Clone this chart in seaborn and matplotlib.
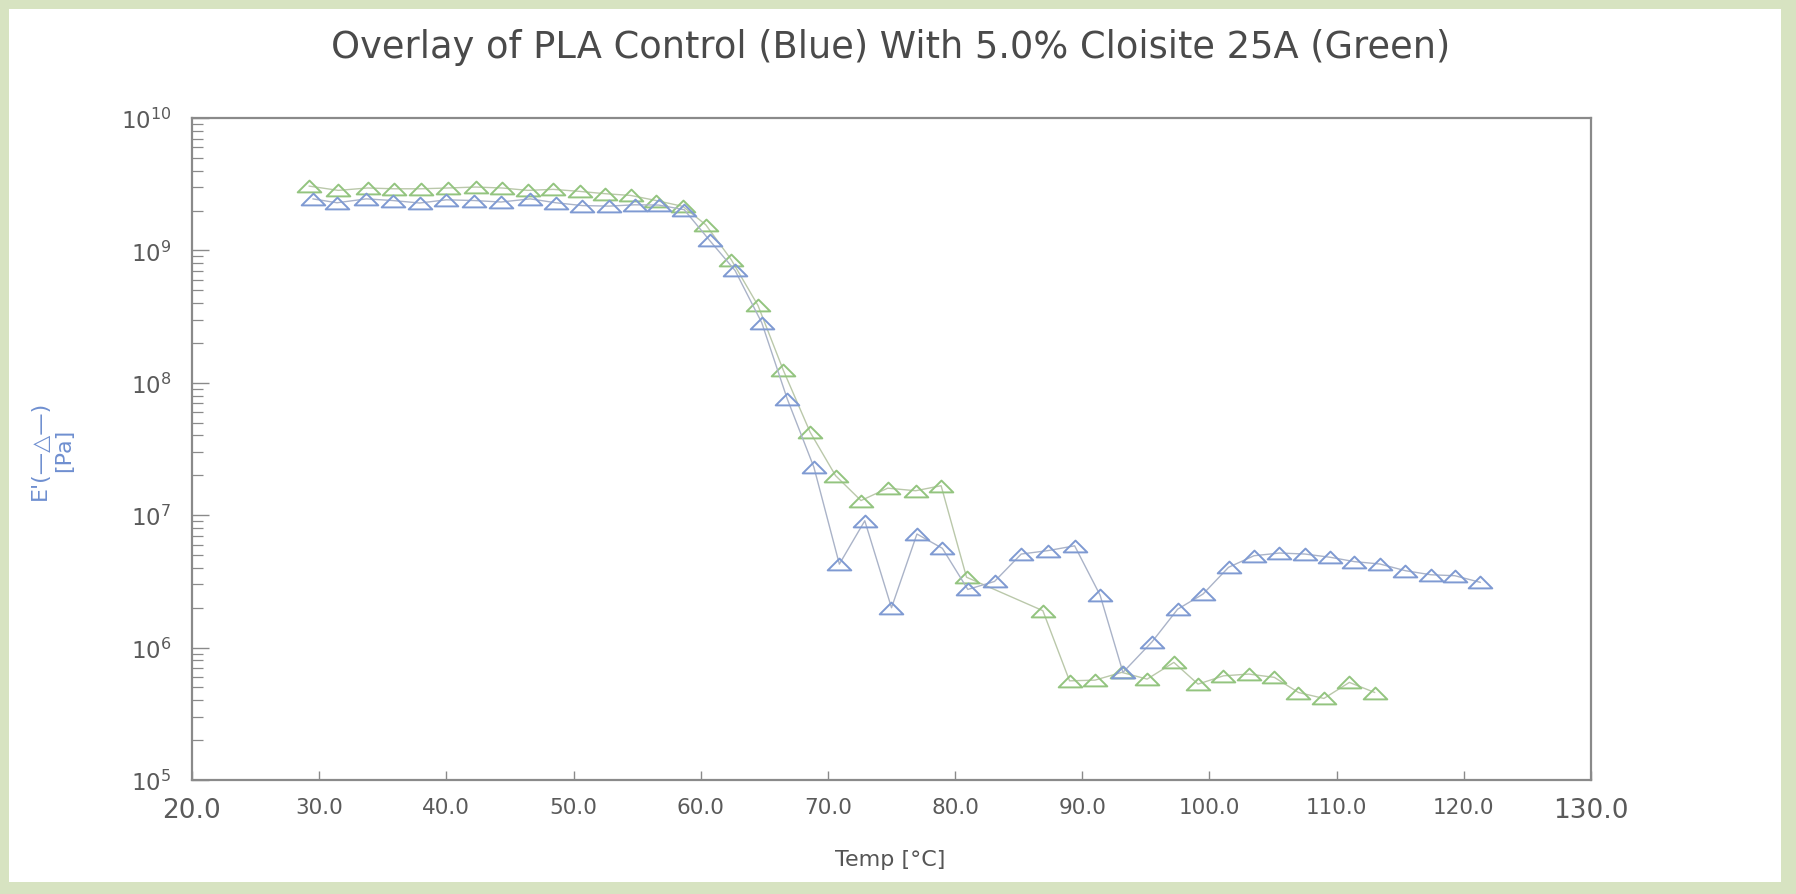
import numpy as np
import matplotlib
matplotlib.use("Agg")
import matplotlib.pyplot as plt
import seaborn as sns
from matplotlib.path import Path
from matplotlib.patches import Rectangle
from matplotlib.ticker import LogLocator, FixedLocator, FixedFormatter, NullFormatter

# ---------------- data ----------------
temp_blue = [29.5, 31.4, 33.7, 35.8, 37.9, 40.0, 42.2, 44.3, 46.6, 48.6,
             50.7, 52.8, 54.8, 56.7, 58.7, 60.7, 62.7, 64.8, 66.8, 68.9,
             70.9, 72.9, 75.0, 77.0, 79.0, 81.0, 83.1, 85.2, 87.3, 89.4,
             91.4, 93.2, 95.5, 97.5, 99.5, 101.5, 103.5, 105.5, 107.5, 109.5,
             111.4, 113.4, 115.4, 117.4, 119.3, 121.3]
e_blue = [2.45e9, 2.29e9, 2.45e9, 2.38e9, 2.28e9, 2.41e9, 2.38e9, 2.32e9, 2.45e9, 2.29e9,
          2.18e9, 2.16e9, 2.21e9, 2.20e9, 2.03e9, 1.19e9, 7.05e8, 2.84e8, 7.57e7, 2.30e7,
          4.27e6, 9.08e6, 2.00e6, 7.21e6, 5.62e6, 2.75e6, 3.16e6, 5.09e6, 5.40e6, 5.87e6,
          2.49e6, 6.50e5, 1.11e6, 1.95e6, 2.54e6, 4.04e6, 4.94e6, 5.18e6, 5.09e6, 4.81e6,
          4.46e6, 4.28e6, 3.81e6, 3.55e6, 3.49e6, 3.11e6]

temp_green = [29.2, 31.5, 33.8, 35.9, 38.0, 40.1, 42.3, 44.4, 46.4, 48.4,
              50.5, 52.5, 54.5, 56.5, 58.6, 60.4, 62.4, 64.5, 66.5, 68.6,
              70.6, 72.6, 74.7, 76.9, 78.9, 80.9, 86.9, 89.0, 91.0, 93.1,
              95.1, 97.2, 99.1, 101.1, 103.1, 105.1, 107.0, 109.0, 111.0, 113.0]
e_green = [3.06e9, 2.84e9, 2.96e9, 2.92e9, 2.92e9, 2.96e9, 3.01e9, 2.96e9, 2.84e9, 2.89e9,
           2.79e9, 2.68e9, 2.60e9, 2.38e9, 2.15e9, 1.56e9, 8.51e8, 3.84e8, 1.24e8, 4.24e7,
           1.99e7, 1.29e7, 1.60e7, 1.53e7, 1.67e7, 3.40e6, 1.90e6, 5.61e5, 5.68e5, 6.50e5,
           5.78e5, 7.73e5, 5.30e5, 6.12e5, 6.31e5, 5.96e5, 4.58e5, 4.13e5, 5.46e5, 4.58e5]

x_ticks = [20, 30, 40, 50, 60, 70, 80, 90, 100, 110, 120, 130]
x_tick_labels = ["20.0", "30.0", "40.0", "50.0", "60.0", "70.0", "80.0", "90.0",
                 "100.0", "110.0", "120.0", "130.0"]
y_exponents = [5, 6, 7, 8, 9, 10]

title_text = "Overlay of PLA Control (Blue) With 5.0% Cloisite 25A (Green)"
x_label = "Temp [°C]"
y_label = "E'(—△—)\n[Pa]"

# ---------------- style ----------------
sns.set_style("white")
plt.rcParams["font.family"] = ["DejaVu Sans"]
plt.rcParams["mathtext.fontset"] = "dejavusans"

W, H = 1796, 895
fig = plt.figure(figsize=(W / 100, H / 100), dpi=100)
fig.patch.set_facecolor("#d7e3c1")
fig.add_artist(Rectangle((9 / W, 12 / H), (1781 - 9) / W, (884 - 11) / H,
                         transform=fig.transFigure, facecolor="white",
                         edgecolor="none", zorder=0))

ax = fig.add_axes([192 / W, 1 - 781 / H, 1399 / W, 662 / H])
ax.set_facecolor("white")

tri = Path([(-1.0, -0.5), (1.0, -0.5), (0.0, 0.5), (-1.0, -0.5)],
           [Path.MOVETO, Path.LINETO, Path.LINETO, Path.CLOSEPOLY])

sns.lineplot(x=temp_green, y=e_green, ax=ax, estimator=None, sort=False,
             color="#bac8aa", linewidth=1.0, marker=tri, markersize=17,
             markerfacecolor="none", markeredgecolor="#93c47f", markeredgewidth=1.4)
sns.lineplot(x=temp_blue, y=e_blue, ax=ax, estimator=None, sort=False,
             color="#aab3c8", linewidth=1.0, marker=tri, markersize=17,
             markerfacecolor="none", markeredgecolor="#7f9ad2", markeredgewidth=1.4)

ax.set_yscale("log")
ax.set_xlim(20, 130)
ax.set_ylim(1e5, 1e10)

spine_col = "#8a8a8a"
for s in ax.spines.values():
    s.set_color(spine_col)
    s.set_linewidth(1.6)

ax.xaxis.set_major_locator(FixedLocator(x_ticks))
ax.xaxis.set_major_formatter(FixedFormatter(x_tick_labels))
ax.tick_params(axis="x", which="major", direction="in", length=6.5, width=1.0,
               color=spine_col, labelsize=15.5, labelcolor="#5a5a5a", pad=12,
               top=False, bottom=True)
for lab in ax.get_xticklabels():
    if lab.get_text() in ("20.0", "130.0"):
        lab.set_fontsize(19)

ax.yaxis.set_major_locator(FixedLocator([10.0 ** e for e in y_exponents]))
ax.yaxis.set_major_formatter(FixedFormatter([r"$10^{%d}$" % e for e in y_exponents]))
ax.yaxis.set_minor_locator(LogLocator(base=10, subs=np.arange(2, 10), numticks=20))
ax.yaxis.set_minor_formatter(NullFormatter())
ax.tick_params(axis="y", which="major", direction="in", length=12, width=1.0,
               color=spine_col, labelsize=16.5, labelcolor="#5a5a5a", pad=15,
               left=True, right=False)
ax.tick_params(axis="y", which="minor", direction="in", length=8, width=0.9,
               color=spine_col, left=True, right=False)

ax.set_xlabel("")
ax.set_ylabel("")

fig.text(891 / W, 1 - 48 / H, title_text, ha="center", va="center",
         fontsize=26.5, color="#4a4a4a")
fig.text(890 / W, 1 - 860 / H, x_label, ha="center", va="center",
         fontsize=16, color="#555555")
fig.text(52 / W, 1 - 450 / H, y_label, ha="center", va="center", rotation=90,
         multialignment="center", fontsize=16, color="#6f8fd0", linespacing=1.3)

fig.savefig("out.png", dpi=100, facecolor=fig.get_facecolor())
